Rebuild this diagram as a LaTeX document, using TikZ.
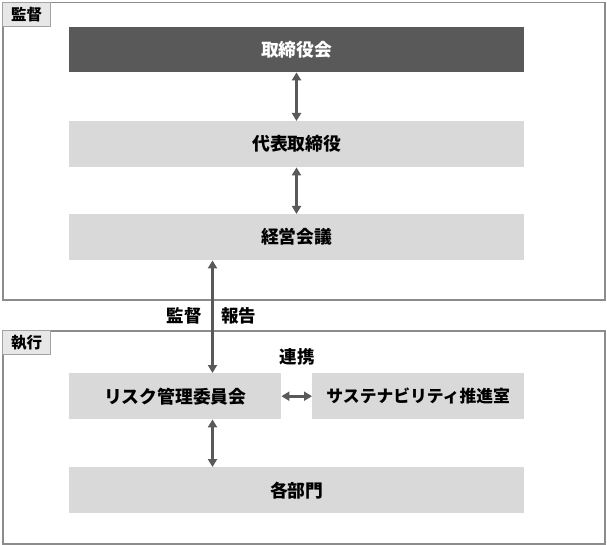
\documentclass[tikz,border=0pt]{standalone}
\usepackage{fontspec}
\setmainfont{Noto Sans CJK JP}
\usetikzlibrary{arrows.meta}
\definecolor{dark}{HTML}{595959}
\definecolor{boxgray}{HTML}{D9D9D9}
\definecolor{tabgray}{HTML}{E7E7E8}
\definecolor{framegray}{HTML}{8C8C8C}
\tikzset{
  frame/.style={draw=framegray, line width=1.5pt, fill=none, inner sep=0pt, anchor=north west},
  tab/.style={draw=framegray!80, line width=1pt, fill=tabgray, inner sep=0pt, anchor=north west,
    minimum width=48pt, minimum height=24pt, font=\fontsize{15.5}{15.5}\selectfont\bfseries},
  darkbox/.style={fill=dark, text=white, inner sep=0pt, anchor=north west, minimum height=45pt,
    font=\fontsize{17.8}{17.8}\selectfont\bfseries},
  lightbox/.style={fill=boxgray, text=black, inner sep=0pt, anchor=north west, minimum height=46pt,
    font=\fontsize{17.8}{17.8}\selectfont\bfseries},
  lbl/.style={inner sep=0pt, font=\fontsize{17.5}{17.5}\selectfont\bfseries},
  arr/.style={draw=dark, line width=3pt, {Triangle[length=8pt,width=9pt]}-{Triangle[length=8pt,width=9pt]}}
}
\begin{document}
\begin{tikzpicture}[x=1pt,y=-1pt]
\useasboundingbox (0,0) rectangle (607,545);
% frames
\node[frame, minimum width=602pt, minimum height=297pt] (top) at (2,2) {};
\node[frame, minimum width=602pt, minimum height=213pt] (bot) at (2,330) {};
\node[tab] (tabtop) at (2,2) {監督};
\node[tab] (tabbot) at (2,330) {執行};
% boxes
\node[darkbox, minimum width=455pt] (board) at (69,27) {取締役会};
\node[lightbox, minimum width=455pt] (ceo) at (69,121) {代表取締役};
\node[lightbox, minimum width=455pt] (mgmt) at (69,214) {経営会議};
\node[lightbox, minimum width=212pt] (risk) at (69,373) {リスク管理委員会};
\node[lightbox, minimum width=212pt, font=\fontsize{16.8}{16.8}\selectfont\bfseries] (sust) at (312,373) {サステナビリティ推進室};
\node[lightbox, minimum width=455pt] (dept) at (69,467) {各部門};
% labels
\node[lbl, anchor=east] (sup) at (202,316) {監督};
\node[lbl, anchor=west] (rep) at (221,316) {報告};
\node[lbl] (coop) at (297,357) {連携};
% arrows
\coordinate (c1) at (296.5,0);
\coordinate (c2) at (212.5,0);
\draw[arr] (board.south -| c1) -- (ceo.north -| c1);
\draw[arr] (ceo.south -| c1) -- (mgmt.north -| c1);
\draw[arr] (mgmt.south -| c2) -- (risk.north -| c2);
\draw[arr] (risk.south -| c2) -- (dept.north -| c2);
\draw[arr] (risk.east) -- (sust.west);
\end{tikzpicture}
\end{document}
